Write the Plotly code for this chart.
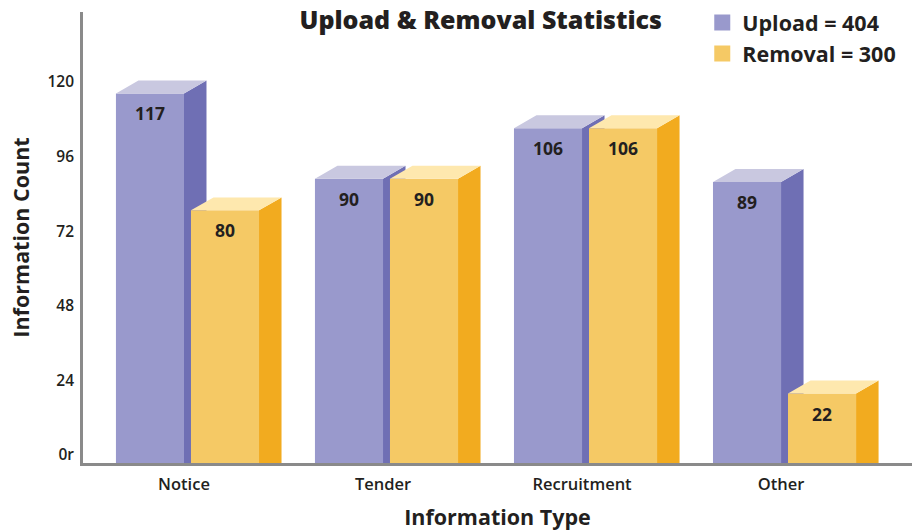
import plotly.graph_objects as go

# ---- data ----
categories = ["Notice", "Tender", "Recruitment", "Other"]
upload = [117, 90, 106, 89]
removal = [80, 90, 106, 22]
series_names = ["Upload = 404", "Removal = 300"]
y_ticks = [0, 24, 48, 72, 96, 120]
y_tick_labels = ["0r", "24", "48", "72", "96", "120"]

# ---- style ----
FONT = "Open Sans"
TXT = "#231f20"
UP = dict(front="#9999cc", side="#6f6fb4", top="#c9c8e0")
RM = dict(front="#f5c965", side="#f2ab1f", top="#fee8ae")
W = 0.342          # front face width (x units)
OFF_UP = -0.342    # offset of upload bar from category position
OFF_RM = 0.035     # offset of removal bar
DX = 0.113         # depth offset in x units
DY = 4.1           # depth offset in y units
X_RANGE = [-0.5075, 3.658]
Y_RANGE = [0, 142.8]
LABEL_RANGE = [-2.57, 142.5]   # the printed tick scale sits slightly above the bar scale

xs = list(range(len(categories)))


def faces(values, off):
    sx, sy, tx, ty = [], [], [], []
    for i, v in zip(xs, values):
        xl = i + off
        xr = xl + W
        sx += [xr, xr + DX, xr + DX, xr, xr, None]
        sy += [0, 0, v + DY, v, 0, None]
        tx += [xl, xl + DX, xr + DX, xr, xl, None]
        ty += [v, v + DY, v + DY, v, v, None]
    return sx, sy, tx, ty


fig = go.Figure()

for vals, off, col, xa, ya in [(upload, OFF_UP, UP, "x", "y"), (removal, OFF_RM, RM, "x2", "y2")]:
    fig.add_trace(go.Bar(x=xs, y=vals, width=W, offset=off, marker=dict(color=col["front"], line=dict(width=0)),
                         showlegend=False, hoverinfo="skip", xaxis=xa, yaxis=ya))
    sx, sy, tx, ty = faces(vals, off)
    fig.add_trace(go.Scatter(x=sx, y=sy, mode="lines", fill="toself", fillcolor=col["side"],
                             line=dict(width=0, color=col["side"]), showlegend=False, hoverinfo="skip",
                             xaxis=xa, yaxis=ya))
    fig.add_trace(go.Scatter(x=tx, y=ty, mode="lines", fill="toself", fillcolor=col["top"],
                             line=dict(width=0, color=col["top"]), showlegend=False, hoverinfo="skip",
                             xaxis=xa, yaxis=ya))

# legend entries
for name, col in zip(series_names, [UP, RM]):
    fig.add_trace(go.Scatter(x=[None], y=[None], mode="markers", name=name,
                             marker=dict(symbol="square", size=16, color=col["front"])))

# invisible trace to carry the printed tick scale
fig.add_trace(go.Scatter(x=[None], y=[None], mode="markers", showlegend=False, hoverinfo="skip",
                         xaxis="x", yaxis="y3"))

# value labels
for vals, off in [(upload, OFF_UP), (removal, OFF_RM)]:
    for i, v in zip(xs, vals):
        fig.add_annotation(x=i + off + W / 2, y=v, text=str(v), showarrow=False, yshift=-20,
                           xref="x", yref="y", yanchor="middle",
                           font=dict(family=FONT, size=17.5, color=TXT, weight="bold"))

fig.update_layout(
    width=914, height=532,
    margin=dict(l=83, r=2, t=12, b=69, autoexpand=False),
    paper_bgcolor="white", plot_bgcolor="white",
    barmode="overlay",
    title=dict(text="Upload & Removal Statistics", x=0.526, xanchor="center", y=0.962, yanchor="middle",
               font=dict(family=FONT, size=25, color=TXT, weight=800)),
    legend=dict(x=0.747, xanchor="left", y=1.022, yanchor="top",
                font=dict(family=FONT, size=21.5, color=TXT, weight="bold"),
                bgcolor="rgba(0,0,0,0)", tracegroupgap=0, itemwidth=30),
    xaxis=dict(range=X_RANGE, tickvals=xs, ticktext=categories, showgrid=False, zeroline=False,
               showline=True, linecolor="#8a8a8a", linewidth=3, layer="below traces",
               ticks="", ticklabelstandoff=4, automargin=False,
               tickfont=dict(family=FONT, size=16.5, color=TXT, weight=600),
               title=dict(text="Information Type", standoff=17,
                          font=dict(family=FONT, size=21.5, color=TXT, weight="bold"))),
    yaxis=dict(range=Y_RANGE, tickvals=y_ticks, showticklabels=False,
               showgrid=False, zeroline=False, showline=True, linecolor="#8a8a8a", linewidth=3,
               layer="below traces", ticks="", automargin=False,
               title=dict(text="Information Count", standoff=45,
                          font=dict(family=FONT, size=21.5, color=TXT, weight="bold"))),
    yaxis3=dict(range=LABEL_RANGE, overlaying="y", side="left", tickvals=y_ticks, ticktext=y_tick_labels,
                showgrid=False, zeroline=False, showline=False, ticks="", ticklabelstandoff=8,
                automargin=False, tickfont=dict(family=FONT, size=15.5, color=TXT, weight=600)),
    xaxis2=dict(range=X_RANGE, overlaying="x", visible=False),
    yaxis2=dict(range=Y_RANGE, overlaying="y", visible=False),
)

fig.write_html("out.html", config={"displayModeBar": False},
               post_script="document.body.style.margin='0';")
